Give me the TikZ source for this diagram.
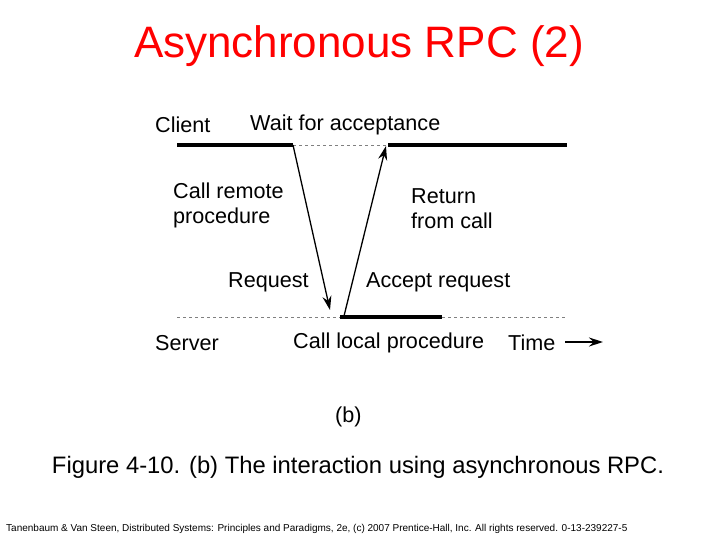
\documentclass[tikz,border=0pt]{standalone}
\usepackage{fontspec}
\setmainfont{Liberation Sans}
\usetikzlibrary{arrows.meta}
\tikzset{
  lbl/.style={anchor=west, inner sep=0pt, font=\fontsize{21.6}{25}\selectfont},
  busy/.style={line width=4pt},
  idle/.style={dashed, gray},
  msg/.style={-{Stealth[length=14pt,width=9pt]}, line width=1.3pt}
}
\begin{document}
\begin{tikzpicture}[x=1pt,y=-1pt]
\useasboundingbox (0,0) rectangle (720,540);

\node (title) at (359,46) {\color{red}\fontsize{44}{50}\selectfont Asynchronous RPC (2)};

% time lines
\coordinate (c0) at (177,145);
\coordinate (c1) at (293,145);
\coordinate (c2) at (388,145);
\coordinate (c3) at (567,145);
\coordinate (s0) at (177,317);
\coordinate (s1) at (340,317);
\coordinate (s2) at (442,317);
\coordinate (s3) at (567,317);
\draw[busy] (c0) -- (c1);
\draw[idle] (c1) -- (c2);
\draw[busy] (c2) -- (c3);
\draw[idle] (s0) -- (s1);
\draw[busy] (s1) -- (s2);
\draw[idle] (s2) -- (s3);

% messages
\coordinate (rq) at (330,310);
\coordinate (ac) at (344,316);
\coordinate (ret) at (386,146);
\draw[msg] (c1) -- (rq);
\draw[msg] (ac) -- (ret);

\node[lbl] (client) at (155,125) {Client};
\node[lbl] (wait) at (250,125) {Wait for acceptance};
\node[lbl, align=left] (call) at (173,205) {Call remote\\procedure};
\node[lbl, align=left] (return) at (411,209) {Return\\from call};
\node[lbl] (request) at (228,282) {Request};
\node[lbl] (accept) at (366,282) {Accept request};
\node[lbl] (server) at (155,343) {Server};
\node[lbl] (local) at (293,343) {Call local procedure};
\node[lbl] (time) at (508,343) {Time};
\coordinate (t0) at (565,342);
\coordinate (t1) at (603,342);
\draw[msg] (t0) -- (t1);
\node[lbl] (b) at (335,417) {(b)};

\node (caption) at (358,467) {\fontsize{23.8}{28}\selectfont Figure 4-10. (b) The interaction using asynchronous RPC.};
\node[anchor=west, inner sep=0pt] (footer) at (6,529) {\fontsize{10}{12}\selectfont Tanenbaum \& Van Steen, Distributed Systems: Principles and Paradigms, 2e, (c) 2007 Prentice-Hall, Inc. All rights reserved. 0-13-239227-5};
\end{tikzpicture}
\end{document}
